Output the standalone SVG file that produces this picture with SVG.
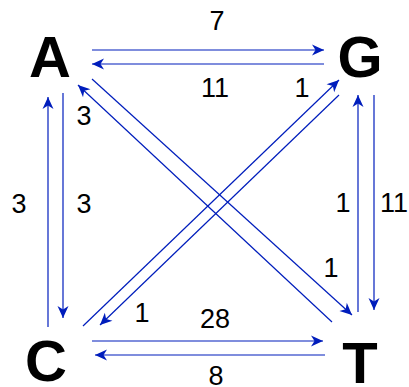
<svg xmlns="http://www.w3.org/2000/svg" width="409" height="387" viewBox="0 0 409 387">
  <style>
    .node { font-family: "Liberation Sans", Arial, sans-serif; font-weight: bold; font-size: 58px; fill: #000; text-anchor: middle; }
    .lbl { font-family: "Liberation Sans", Arial, sans-serif; font-size: 27px; fill: #000; text-anchor: middle; }
    .edge { stroke: #001DBC; stroke-width: 1.2; fill: none; marker-end: url(#arr); }
  </style>
  <defs>
    <marker id="arr" markerUnits="userSpaceOnUse" viewBox="-13 -6 14 12" refX="0" refY="0" markerWidth="14" markerHeight="12" orient="auto">
      <path d="M0,0 L-12,-5.5 L-8.5,0 L-12,5.5 Z" fill="#001DBC"/>
    </marker>
  </defs>
  <rect width="409" height="387" fill="#fff"/>
  <g id="nodes">
    <g id="node-A"><text class="node" x="50" y="77">A</text></g>
    <g id="node-G"><text class="node" x="360" y="77">G</text></g>
    <g id="node-C"><text class="node" x="46" y="381">C</text></g>
    <g id="node-T"><text class="node" x="360" y="383">T</text></g>
  </g>
  <g id="connectors">
    <line class="edge" x1="92" y1="50" x2="324" y2="50"/>
    <line class="edge" x1="324" y1="64" x2="92" y2="64"/>
    <line class="edge" x1="63" y1="93" x2="63" y2="318"/>
    <line class="edge" x1="48" y1="327" x2="48" y2="97"/>
    <line class="edge" x1="358" y1="312" x2="358" y2="95"/>
    <line class="edge" x1="374" y1="95" x2="374" y2="310"/>
    <line class="edge" x1="92" y1="341" x2="323" y2="341"/>
    <line class="edge" x1="325" y1="355" x2="95" y2="355"/>
    <line class="edge" x1="332" y1="322" x2="78" y2="85"/>
    <line class="edge" x1="92" y1="79" x2="352" y2="315"/>
    <line class="edge" x1="83" y1="326" x2="339" y2="80"/>
    <line class="edge" x1="339" y1="95" x2="100" y2="325"/>
  </g>
  <g id="labels">
    <text class="lbl" x="217" y="30">7</text>
    <text class="lbl" x="215" y="97">11</text>
    <text class="lbl" x="302" y="97">1</text>
    <text class="lbl" x="84" y="125">3</text>
    <text class="lbl" x="19" y="213">3</text>
    <text class="lbl" x="84" y="213">3</text>
    <text class="lbl" x="343" y="212">1</text>
    <text class="lbl" x="394" y="212">11</text>
    <text class="lbl" x="331" y="277">1</text>
    <text class="lbl" x="142" y="322">1</text>
    <text class="lbl" x="215" y="328">28</text>
    <text class="lbl" x="216" y="385">8</text>
  </g>
</svg>
